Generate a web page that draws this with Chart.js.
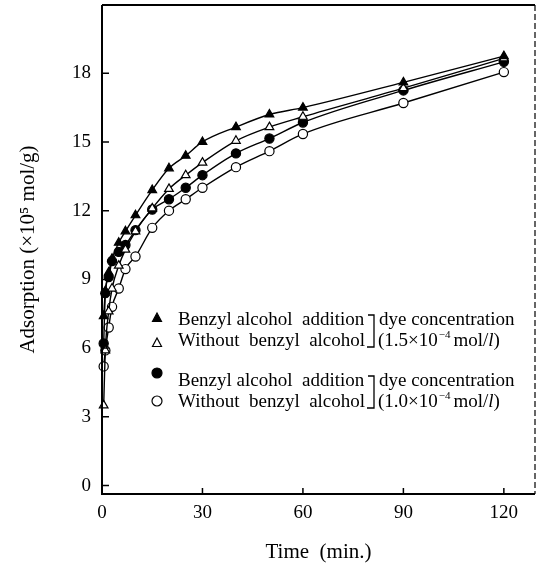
<!DOCTYPE html>
<html>
<head>
<meta charset="utf-8">
<script src="https://cdn.jsdelivr.net/npm/chart.js@4/dist/chart.umd.min.js"></script>
<style>
  html, body { margin: 0; padding: 0; background: #fff; }
  canvas { display: block; }
</style>
</head>
<body>
<canvas id="adsChart" width="537" height="567"></canvas>
<script>
// ===== data =====
const times = [0.5, 1, 2, 3, 5, 7, 10, 15, 20, 25, 30, 40, 50, 60, 90, 120];
const triFilled  = [7.4, 8.5, 9.3, 9.9, 10.6, 11.1, 11.8, 12.9, 13.85, 14.4, 15.0, 15.65, 16.2, 16.5, 17.6, 18.75];
const triOpen    = [3.5, 5.9, 7.6, 8.6, 9.6, 10.3, 11.1, 12.1, 12.95, 13.55, 14.1, 15.05, 15.65, 16.1, 17.35, 18.65];
const circFilled = [6.2, 8.4, 9.1, 9.8, 10.2, 10.5, 11.15, 12.05, 12.5, 13.0, 13.55, 14.5, 15.15, 15.85, 17.25, 18.5];
const circOpen   = [5.2, 5.9, 6.9, 7.8, 8.6, 9.45, 10.0, 11.25, 12.0, 12.5, 13.0, 13.9, 14.6, 15.35, 16.7, 18.05];

const xTicks = [0, 30, 60, 90, 120];
const yTicks = [0, 3, 6, 9, 12, 15, 18];

const legendRows = [
  { style: 'triangle', filled: true,  text: 'Benzyl alcohol  addition' },
  { style: 'triangle', filled: false, text: 'Without  benzyl  alcohol' },
  { style: 'circle',   filled: true,  text: 'Benzyl alcohol  addition' },
  { style: 'circle',   filled: false, text: 'Without  benzyl  alcohol' }
];
const concLabels = ['1.5', '1.0'];

const SERIF = '"Liberation Serif", "DejaVu Serif", serif';

function series(values) {
  return times.map((t, i) => ({ x: t, y: values[i] }));
}

function mkDataset(label, values, style, filled) {
  return {
    label,
    data: series(values),
    borderColor: '#000',
    borderWidth: 1.4,
    cubicInterpolationMode: 'monotone',
    pointStyle: style,
    pointRadius: style === 'triangle' ? 5 : 4.6,
    pointBackgroundColor: filled ? '#000' : '#fff',
    pointBorderColor: '#000',
    pointBorderWidth: 1.2,
    clip: false
  };
}

function marker(ctx, style, filled, x, y) {
  ctx.save();
  ctx.fillStyle = filled ? '#000' : '#fff';
  ctx.strokeStyle = '#000';
  ctx.lineWidth = 1.2;
  ctx.beginPath();
  if (style === 'triangle') {
    ctx.moveTo(x, y - 5);
    ctx.lineTo(x + 4.5, y + 3.5);
    ctx.lineTo(x - 4.5, y + 3.5);
    ctx.closePath();
  } else {
    ctx.arc(x, y, 5, 0, Math.PI * 2);
  }
  ctx.fill();
  ctx.stroke();
  ctx.restore();
}

// frame, inward ticks and legend
const framePlugin = {
  id: 'frame',
  afterDraw(chart) {
    const { ctx, chartArea: a, scales } = chart;
    ctx.save();
    ctx.strokeStyle = '#000';
    ctx.lineWidth = 2;
    ctx.beginPath();
    ctx.moveTo(a.left, a.top); ctx.lineTo(a.right, a.top);
    ctx.moveTo(a.left, a.top); ctx.lineTo(a.left, a.bottom);
    ctx.lineTo(a.right, a.bottom);
    ctx.stroke();
    ctx.lineWidth = 1.2;
    ctx.setLineDash([6, 3]);
    ctx.beginPath();
    ctx.moveTo(a.right, a.top); ctx.lineTo(a.right, a.bottom);
    ctx.stroke();
    ctx.setLineDash([]);

    ctx.lineWidth = 1.5;
    ctx.beginPath();
    yTicks.forEach(v => {
      const py = scales.y.getPixelForValue(v);
      ctx.moveTo(a.left, py); ctx.lineTo(a.left + 7, py);
    });
    xTicks.forEach(v => {
      const px = scales.x.getPixelForValue(v);
      ctx.moveTo(px, a.bottom); ctx.lineTo(px, a.bottom - 6);
    });
    ctx.stroke();

    // legend
    const rowY = [320, 341, 381, 402];
    const markY = [318, 343, 373, 401];
    ctx.fillStyle = '#000';
    ctx.font = '19px ' + SERIF;
    ctx.textBaseline = 'middle';
    ctx.textAlign = 'left';
    legendRows.forEach((r, i) => {
      marker(ctx, r.style, r.filled, 157, markY[i]);
      ctx.fillText(r.text, 178, rowY[i]);
    });
    [0, 1].forEach(g => {
      const y1 = rowY[g * 2], y2 = rowY[g * 2 + 1];
      ctx.lineWidth = 1.3;
      ctx.beginPath();
      ctx.moveTo(368, y1 - 5); ctx.lineTo(374, y1 - 5);
      ctx.lineTo(374, y2 + 6); ctx.lineTo(367, y2 + 6);
      ctx.stroke();
      ctx.font = '19px ' + SERIF;
      ctx.fillText('dye concentration', 379, y1);
      let x = 378;
      const part1 = '(' + concLabels[g] + '\u00d710';
      ctx.fillText(part1, x, y2);
      x += ctx.measureText(part1).width;
      ctx.font = '11px ' + SERIF;
      ctx.fillText('\u22124', x + 1, y2 - 6);
      x += ctx.measureText('\u22124').width + 4;
      ctx.font = '19px ' + SERIF;
      ctx.fillText('mol/', x, y2);
      x += ctx.measureText('mol/').width;
      ctx.font = 'italic 19px ' + SERIF;
      ctx.fillText('l', x, y2);
      x += ctx.measureText('l').width;
      ctx.font = '19px ' + SERIF;
      ctx.fillText(')', x, y2);
    });
    ctx.restore();
  }
};

new Chart(document.getElementById('adsChart'), {
  type: 'line',
  data: {
    datasets: [
      mkDataset('Benzyl alcohol addition (1.5)', triFilled, 'triangle', true),
      mkDataset('Without benzyl alcohol (1.5)', triOpen, 'triangle', false),
      mkDataset('Benzyl alcohol addition (1.0)', circFilled, 'circle', true),
      mkDataset('Without benzyl alcohol (1.0)', circOpen, 'circle', false)
    ]
  },
  options: {
    responsive: false,
    animation: false,
    devicePixelRatio: 1,
    layout: { autoPadding: false, padding: { top: 5, right: 2, left: 0, bottom: 0 } },
    plugins: { legend: { display: false }, tooltip: { enabled: false } },
    scales: {
      x: {
        type: 'linear',
        min: 0,
        max: 129.3,
        afterBuildTicks: s => { s.ticks = xTicks.map(v => ({ value: v })); },
        afterFit: s => { s.height = 73; s.paddingLeft = 0; s.paddingRight = 0; },
        grid: { display: false, drawTicks: false },
        border: { display: false },
        ticks: { color: '#000', padding: 8, maxRotation: 0, font: { family: SERIF, size: 19 } },
        title: {
          display: true,
          text: 'Time  (min.)',
          color: '#000',
          font: { family: SERIF, size: 21 },
          padding: { top: 0, bottom: 2 }
        }
      },
      y: {
        min: -0.37,
        max: 20.98,
        afterBuildTicks: s => { s.ticks = yTicks.map(v => ({ value: v })); },
        afterFit: s => { s.width = 102; s.paddingTop = 0; s.paddingBottom = 0; },
        grid: { display: false, drawTicks: false },
        border: { display: false },
        ticks: { color: '#000', padding: 11, font: { family: SERIF, size: 19 } },
        title: {
          display: true,
          text: 'Adsorption (\u00d710\u2075 mol/g)',
          color: '#000',
          font: { family: SERIF, size: 21 },
          padding: { top: 16, bottom: 0 }
        }
      }
    }
  },
  plugins: [framePlugin]
});
</script>
</body>
</html>
